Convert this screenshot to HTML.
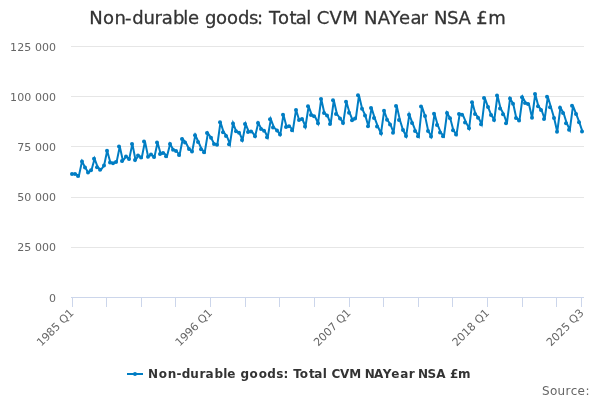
<!DOCTYPE html>
<html><head><meta charset="utf-8"><title>Non-durable goods: Total CVM NAYear NSA £m</title>
<style>
html,body{margin:0;padding:0;background:#fff;}
body{width:600px;height:400px;overflow:hidden;}
svg{display:block;font-family:"DejaVu Sans","Liberation Sans",sans-serif;}
</style></head><body>
<svg width="600" height="400" viewBox="0 0 600 400">
<rect x="0" y="0" width="600" height="400" fill="#ffffff"/>
<g stroke="#e6e6e6" stroke-width="1" fill="none"><path d="M 71 46.5 L 584 46.5"/><path d="M 71 96.5 L 584 96.5"/><path d="M 71 146.5 L 584 146.5"/><path d="M 71 197.5 L 584 197.5"/><path d="M 71 247.5 L 584 247.5"/></g>
<g stroke="#ccd6eb" stroke-width="1" fill="none"><path d="M 72.5 297 L 72.5 307"/><path d="M 106.5 297 L 106.5 307"/><path d="M 141.5 297 L 141.5 307"/><path d="M 175.5 297 L 175.5 307"/><path d="M 210.5 297 L 210.5 307"/><path d="M 245.5 297 L 245.5 307"/><path d="M 279.5 297 L 279.5 307"/><path d="M 314.5 297 L 314.5 307"/><path d="M 349.5 297 L 349.5 307"/><path d="M 383.5 297 L 383.5 307"/><path d="M 418.5 297 L 418.5 307"/><path d="M 452.5 297 L 452.5 307"/><path d="M 487.5 297 L 487.5 307"/><path d="M 522.5 297 L 522.5 307"/><path d="M 556.5 297 L 556.5 307"/><path d="M 581.5 297 L 581.5 307"/><path d="M 71 297.5 L 584 297.5"/></g>
<path d="M 72.57 174.00 L 75.72 174.00 L 78.87 176.00 L 82.02 161.40 L 85.16 167.50 L 88.31 172.50 L 91.46 170.25 L 94.60 158.80 L 97.75 167.25 L 100.90 169.75 L 104.05 165.60 L 107.19 150.70 L 110.34 162.50 L 113.49 163.25 L 116.63 161.90 L 119.78 146.55 L 122.93 160.90 L 126.08 156.40 L 129.22 159.00 L 132.37 143.90 L 135.52 160.00 L 138.67 155.50 L 141.81 157.50 L 144.96 141.40 L 148.11 156.75 L 151.25 154.40 L 154.40 157.10 L 157.55 142.55 L 160.70 154.00 L 163.84 152.90 L 166.99 156.25 L 170.14 144.05 L 173.29 149.75 L 176.43 151.00 L 179.58 155.00 L 182.73 139.05 L 185.87 142.50 L 189.02 149.00 L 192.17 151.50 L 195.32 135.30 L 198.46 142.00 L 201.61 149.20 L 204.76 152.25 L 207.90 133.05 L 211.05 137.75 L 214.20 144.00 L 217.35 144.75 L 220.49 122.20 L 223.64 132.25 L 226.79 135.90 L 229.94 144.20 L 233.08 123.40 L 236.23 131.25 L 239.38 132.75 L 242.52 140.00 L 245.67 124.05 L 248.82 131.90 L 251.97 131.60 L 255.11 136.25 L 258.26 123.10 L 261.41 128.90 L 264.56 130.75 L 267.70 137.25 L 270.85 119.30 L 274.00 127.50 L 277.14 130.60 L 280.29 134.60 L 283.44 114.70 L 286.59 126.90 L 289.73 126.25 L 292.88 130.25 L 296.03 109.90 L 299.17 120.00 L 302.32 119.00 L 305.47 126.50 L 308.62 106.30 L 311.76 114.90 L 314.91 116.25 L 318.06 123.20 L 321.21 98.95 L 324.35 113.00 L 327.50 115.60 L 330.65 123.90 L 333.79 100.30 L 336.94 114.00 L 340.09 118.50 L 343.24 122.90 L 346.38 101.80 L 349.53 112.75 L 352.68 120.25 L 355.83 118.50 L 358.97 95.30 L 362.12 108.75 L 365.27 115.40 L 368.41 126.25 L 371.56 108.05 L 374.71 118.10 L 377.86 126.50 L 381.00 133.30 L 384.15 110.80 L 387.30 119.75 L 390.44 124.40 L 393.59 132.75 L 396.74 105.90 L 399.89 120.00 L 403.03 130.00 L 406.18 136.00 L 409.33 114.70 L 412.48 123.10 L 415.62 131.00 L 418.77 136.25 L 421.92 106.55 L 425.06 115.90 L 428.21 131.00 L 431.36 136.50 L 434.51 113.80 L 437.65 125.00 L 440.80 132.60 L 443.95 136.20 L 447.10 113.00 L 450.24 118.30 L 453.39 130.25 L 456.54 134.50 L 459.68 113.90 L 462.83 114.80 L 465.98 122.40 L 469.13 128.25 L 472.27 102.20 L 475.42 113.90 L 478.57 117.75 L 481.71 124.25 L 484.86 98.05 L 488.01 107.00 L 491.16 114.90 L 494.30 119.90 L 497.45 95.50 L 500.60 108.50 L 503.75 114.20 L 506.89 123.25 L 510.04 98.60 L 513.19 103.75 L 516.33 118.10 L 519.48 120.40 L 522.63 97.20 L 525.78 102.90 L 528.92 104.00 L 532.07 117.75 L 535.22 94.05 L 538.37 106.25 L 541.51 110.00 L 544.66 119.00 L 547.81 96.80 L 550.95 107.20 L 554.10 118.00 L 557.25 131.80 L 560.40 107.70 L 563.54 112.90 L 566.69 123.20 L 569.84 129.80 L 572.98 105.80 L 576.13 113.90 L 579.28 122.20 L 582.43 131.50" fill="none" stroke="#007dc3" stroke-width="2" stroke-linejoin="miter" stroke-miterlimit="4" stroke-linecap="round"/>
<g fill="#007dc3"><circle cx="72" cy="174.00" r="2"/><circle cx="75" cy="174.00" r="2"/><circle cx="78" cy="176.00" r="2"/><circle cx="82" cy="161.40" r="2"/><circle cx="85" cy="167.50" r="2"/><circle cx="88" cy="172.50" r="2"/><circle cx="91" cy="170.25" r="2"/><circle cx="94" cy="158.80" r="2"/><circle cx="97" cy="167.25" r="2"/><circle cx="100" cy="169.75" r="2"/><circle cx="104" cy="165.60" r="2"/><circle cx="107" cy="150.70" r="2"/><circle cx="110" cy="162.50" r="2"/><circle cx="113" cy="163.25" r="2"/><circle cx="116" cy="161.90" r="2"/><circle cx="119" cy="146.55" r="2"/><circle cx="122" cy="160.90" r="2"/><circle cx="126" cy="156.40" r="2"/><circle cx="129" cy="159.00" r="2"/><circle cx="132" cy="143.90" r="2"/><circle cx="135" cy="160.00" r="2"/><circle cx="138" cy="155.50" r="2"/><circle cx="141" cy="157.50" r="2"/><circle cx="144" cy="141.40" r="2"/><circle cx="148" cy="156.75" r="2"/><circle cx="151" cy="154.40" r="2"/><circle cx="154" cy="157.10" r="2"/><circle cx="157" cy="142.55" r="2"/><circle cx="160" cy="154.00" r="2"/><circle cx="163" cy="152.90" r="2"/><circle cx="166" cy="156.25" r="2"/><circle cx="170" cy="144.05" r="2"/><circle cx="173" cy="149.75" r="2"/><circle cx="176" cy="151.00" r="2"/><circle cx="179" cy="155.00" r="2"/><circle cx="182" cy="139.05" r="2"/><circle cx="185" cy="142.50" r="2"/><circle cx="189" cy="149.00" r="2"/><circle cx="192" cy="151.50" r="2"/><circle cx="195" cy="135.30" r="2"/><circle cx="198" cy="142.00" r="2"/><circle cx="201" cy="149.20" r="2"/><circle cx="204" cy="152.25" r="2"/><circle cx="207" cy="133.05" r="2"/><circle cx="211" cy="137.75" r="2"/><circle cx="214" cy="144.00" r="2"/><circle cx="217" cy="144.75" r="2"/><circle cx="220" cy="122.20" r="2"/><circle cx="223" cy="132.25" r="2"/><circle cx="226" cy="135.90" r="2"/><circle cx="229" cy="144.20" r="2"/><circle cx="233" cy="123.40" r="2"/><circle cx="236" cy="131.25" r="2"/><circle cx="239" cy="132.75" r="2"/><circle cx="242" cy="140.00" r="2"/><circle cx="245" cy="124.05" r="2"/><circle cx="248" cy="131.90" r="2"/><circle cx="251" cy="131.60" r="2"/><circle cx="255" cy="136.25" r="2"/><circle cx="258" cy="123.10" r="2"/><circle cx="261" cy="128.90" r="2"/><circle cx="264" cy="130.75" r="2"/><circle cx="267" cy="137.25" r="2"/><circle cx="270" cy="119.30" r="2"/><circle cx="273" cy="127.50" r="2"/><circle cx="277" cy="130.60" r="2"/><circle cx="280" cy="134.60" r="2"/><circle cx="283" cy="114.70" r="2"/><circle cx="286" cy="126.90" r="2"/><circle cx="289" cy="126.25" r="2"/><circle cx="292" cy="130.25" r="2"/><circle cx="296" cy="109.90" r="2"/><circle cx="299" cy="120.00" r="2"/><circle cx="302" cy="119.00" r="2"/><circle cx="305" cy="126.50" r="2"/><circle cx="308" cy="106.30" r="2"/><circle cx="311" cy="114.90" r="2"/><circle cx="314" cy="116.25" r="2"/><circle cx="318" cy="123.20" r="2"/><circle cx="321" cy="98.95" r="2"/><circle cx="324" cy="113.00" r="2"/><circle cx="327" cy="115.60" r="2"/><circle cx="330" cy="123.90" r="2"/><circle cx="333" cy="100.30" r="2"/><circle cx="336" cy="114.00" r="2"/><circle cx="340" cy="118.50" r="2"/><circle cx="343" cy="122.90" r="2"/><circle cx="346" cy="101.80" r="2"/><circle cx="349" cy="112.75" r="2"/><circle cx="352" cy="120.25" r="2"/><circle cx="355" cy="118.50" r="2"/><circle cx="358" cy="95.30" r="2"/><circle cx="362" cy="108.75" r="2"/><circle cx="365" cy="115.40" r="2"/><circle cx="368" cy="126.25" r="2"/><circle cx="371" cy="108.05" r="2"/><circle cx="374" cy="118.10" r="2"/><circle cx="377" cy="126.50" r="2"/><circle cx="381" cy="133.30" r="2"/><circle cx="384" cy="110.80" r="2"/><circle cx="387" cy="119.75" r="2"/><circle cx="390" cy="124.40" r="2"/><circle cx="393" cy="132.75" r="2"/><circle cx="396" cy="105.90" r="2"/><circle cx="399" cy="120.00" r="2"/><circle cx="403" cy="130.00" r="2"/><circle cx="406" cy="136.00" r="2"/><circle cx="409" cy="114.70" r="2"/><circle cx="412" cy="123.10" r="2"/><circle cx="415" cy="131.00" r="2"/><circle cx="418" cy="136.25" r="2"/><circle cx="421" cy="106.55" r="2"/><circle cx="425" cy="115.90" r="2"/><circle cx="428" cy="131.00" r="2"/><circle cx="431" cy="136.50" r="2"/><circle cx="434" cy="113.80" r="2"/><circle cx="437" cy="125.00" r="2"/><circle cx="440" cy="132.60" r="2"/><circle cx="443" cy="136.20" r="2"/><circle cx="447" cy="113.00" r="2"/><circle cx="450" cy="118.30" r="2"/><circle cx="453" cy="130.25" r="2"/><circle cx="456" cy="134.50" r="2"/><circle cx="459" cy="113.90" r="2"/><circle cx="462" cy="114.80" r="2"/><circle cx="465" cy="122.40" r="2"/><circle cx="469" cy="128.25" r="2"/><circle cx="472" cy="102.20" r="2"/><circle cx="475" cy="113.90" r="2"/><circle cx="478" cy="117.75" r="2"/><circle cx="481" cy="124.25" r="2"/><circle cx="484" cy="98.05" r="2"/><circle cx="488" cy="107.00" r="2"/><circle cx="491" cy="114.90" r="2"/><circle cx="494" cy="119.90" r="2"/><circle cx="497" cy="95.50" r="2"/><circle cx="500" cy="108.50" r="2"/><circle cx="503" cy="114.20" r="2"/><circle cx="506" cy="123.25" r="2"/><circle cx="510" cy="98.60" r="2"/><circle cx="513" cy="103.75" r="2"/><circle cx="516" cy="118.10" r="2"/><circle cx="519" cy="120.40" r="2"/><circle cx="522" cy="97.20" r="2"/><circle cx="525" cy="102.90" r="2"/><circle cx="528" cy="104.00" r="2"/><circle cx="532" cy="117.75" r="2"/><circle cx="535" cy="94.05" r="2"/><circle cx="538" cy="106.25" r="2"/><circle cx="541" cy="110.00" r="2"/><circle cx="544" cy="119.00" r="2"/><circle cx="547" cy="96.80" r="2"/><circle cx="550" cy="107.20" r="2"/><circle cx="554" cy="118.00" r="2"/><circle cx="557" cy="131.80" r="2"/><circle cx="560" cy="107.70" r="2"/><circle cx="563" cy="112.90" r="2"/><circle cx="566" cy="123.20" r="2"/><circle cx="569" cy="129.80" r="2"/><circle cx="572" cy="105.80" r="2"/><circle cx="576" cy="113.90" r="2"/><circle cx="579" cy="122.20" r="2"/><circle cx="582" cy="131.50" r="2"/></g>
<text y="24" font-size="18px" fill="#333333" stroke="#333333" stroke-width="0.3" xml:space="preserve"><tspan x="89.14 102.94 114.57 125.03 132.14 143.48 154.62 161.73 172.97 183.30 187.93">Non-durable </tspan><tspan x="204.94 215.94 226.94 238.04 249.11 257.00">goods: </tspan><tspan x="269.10 278.04 289.42 295.83 306.30">Total </tspan><tspan x="316.76 329.57 342.34">CVM </tspan><tspan x="364.04 377.87 389.33 398.93 410.53 420.47">NAYear </tspan><tspan x="434.04 446.97 458.42">NSA </tspan><tspan x="476.36 488.17">£m</tspan></text>
<g font-size="11px" fill="#666666"><text x="56" y="51" text-anchor="end" word-spacing="0.25"><tspan letter-spacing="0.25">1</tspan>25 000</text><text x="56" y="101" text-anchor="end" word-spacing="0.25"><tspan letter-spacing="0.25">1</tspan>00 000</text><text x="56" y="151" text-anchor="end" word-spacing="0.25">75 000</text><text x="56" y="201" text-anchor="end" word-spacing="0.25">50 000</text><text x="56" y="251" text-anchor="end" word-spacing="0.25">25 000</text><text x="56" y="302" text-anchor="end" word-spacing="0.25">0</text></g>
<g font-size="11px" fill="#666666"><text x="74.57" y="313.5" text-anchor="end" transform="rotate(-45 74.57 313.5)">1985 Q1</text><text x="213.05" y="313.5" text-anchor="end" transform="rotate(-45 213.05 313.5)">1996 Q1</text><text x="351.53" y="313.5" text-anchor="end" transform="rotate(-45 351.53 313.5)">2007 Q1</text><text x="490.01" y="313.5" text-anchor="end" transform="rotate(-45 490.01 313.5)">2018 Q1</text><text x="584.43" y="313.5" text-anchor="end" transform="rotate(-45 584.43 313.5)">2025 Q3</text></g>
<g>
<path d="M 127 374 L 143 374" stroke="#007dc3" stroke-width="2" fill="none"/>
<circle cx="135" cy="374" r="2" fill="#007dc3"/>
<text y="378" font-size="12px" font-weight="bold" fill="#333333" xml:space="preserve"><tspan x="147.90 158.65 167.74 176.45 181.73 190.20 199.39 205.62 214.39 223.30 227.35">Non-durable </tspan><tspan x="240.43 249.45 258.65 267.33 276.37 283.46">goods: </tspan><tspan x="293.24 299.85 309.05 314.37 322.75">Total </tspan><tspan x="331.47 340.01 349.30">CVM </tspan><tspan x="364.70 373.96 382.70 391.25 400.37 408.79">NAYear </tspan><tspan x="417.90 427.59 436.26">NSA </tspan><tspan x="450.07 458.00">£m</tspan></text>
</g>
<text x="541.9" y="395" font-size="12px" fill="#666666" letter-spacing="0.38">Source:</text>
</svg>
</body></html>
